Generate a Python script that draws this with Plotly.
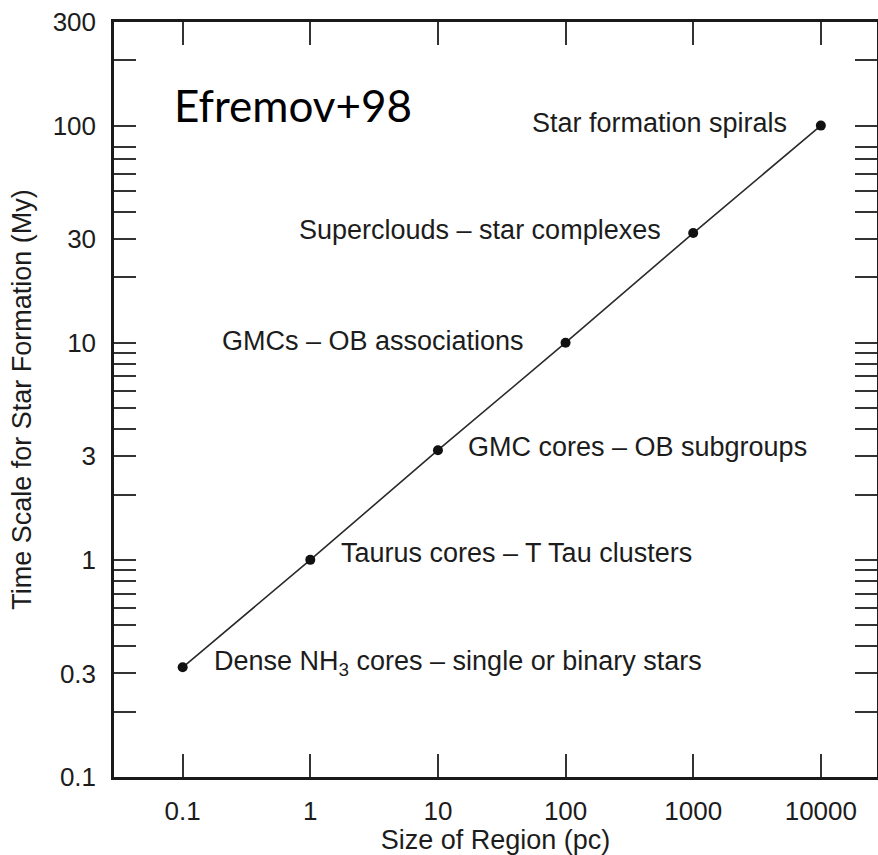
import math
import plotly.graph_objects as go

# Region size (pc) and star-formation time scale (My)
size_pc = [0.1, 1, 10, 100, 1000, 10000]
time_my = [0.32, 1.0, 3.2, 10.0, 32.0, 100.0]
labels = [
    "Dense NH<sub>3</sub> cores \u2013 single or binary stars",
    "Taurus cores \u2013 T Tau clusters",
    "GMC cores \u2013 OB subgroups",
    "GMCs \u2013 OB associations",
    "Superclouds \u2013 star complexes",
    "Star formation spirals",
]

x_ticks = [0.1, 1, 10, 100, 1000, 10000]
x_ticktext = ["0.1", "1", "10", "100", "1000", "10000"]
y_ticks = [0.1, 0.3, 1, 3, 10, 30, 100, 300]
y_ticktext = ["0.1", "0.3", "1", "3", "10", "30", "100", "300"]
y_minor = [0.2, 0.4, 0.5, 0.6, 0.7, 0.8, 0.9,
           2, 4, 5, 6, 7, 8, 9,
           20, 40, 50, 60, 70, 80,
           200]

# label placement relative to its point: (anchor, x offset px, y offset px)
label_place = [
    ("left", 29, 4),
    ("left", 29, 7),
    ("left", 28, 3),
    ("right", -40, 2),
    ("right", -30, 3),
    ("right", -32, 3),
]

INK = "#1c1c1c"
FONT = "Liberation Sans, Arial, Helvetica, sans-serif"

fig = go.Figure()
fig.add_trace(go.Scatter(
    x=size_pc, y=time_my, mode="lines+markers",
    line=dict(color="#2a2a2a", width=1.6),
    marker=dict(color="#111111", size=10),
    showlegend=False, hoverinfo="skip",
))

annotations = []
for xv, yv, txt, (anchor, dx, dy) in zip(size_pc, time_my, labels, label_place):
    annotations.append(dict(
        x=math.log10(xv), y=math.log10(yv), xref="x", yref="y",
        text=txt, showarrow=False,
        xanchor=anchor, yanchor="middle",
        xshift=dx, yshift=dy,
        font=dict(family=FONT, size=27, color=INK),
    ))

annotations.append(dict(
    x=0.076, y=0.89, xref="paper", yref="paper",
    text="Efremov+98", showarrow=False,
    xanchor="left", yanchor="middle",
    font=dict(family="Lato, Open Sans, sans-serif", size=44, color="#000000"),
))

axis_common = dict(
    showline=True, linecolor="#1a1a1a", linewidth=2.5, mirror="ticks",
    ticks="inside", tickcolor="#333333", tickwidth=1.8,
    showgrid=False, zeroline=False,
    tickfont=dict(family=FONT, size=26, color=INK),
)

fig.update_layout(
    width=878, height=855,
    margin=dict(l=114, r=1, t=22, b=78, autoexpand=False),
    paper_bgcolor="white", plot_bgcolor="white",
    annotations=annotations,
    xaxis=dict(
        type="log", range=[-1.538, 4.44],
        tickvals=x_ticks, ticktext=x_ticktext, ticklen=23,
        ticklabelstandoff=9,
        title=dict(text="Size of Region (pc)", standoff=0,
                   font=dict(family=FONT, size=27, color=INK)),
        **axis_common,
    ),
    yaxis=dict(
        type="log", range=[-1, math.log10(300)],
        tickvals=y_ticks, ticktext=y_ticktext, ticklen=22,
        ticklabelstandoff=10,
        minor=dict(tickvals=y_minor, ticks="inside", ticklen=22,
                   tickcolor="#333333", tickwidth=1.8, showgrid=False),
        title=dict(text="Time Scale for Star Formation (My)", standoff=14,
                   font=dict(family=FONT, size=27, color=INK)),
        **axis_common,
    ),
)

fig.write_html("out.html")
